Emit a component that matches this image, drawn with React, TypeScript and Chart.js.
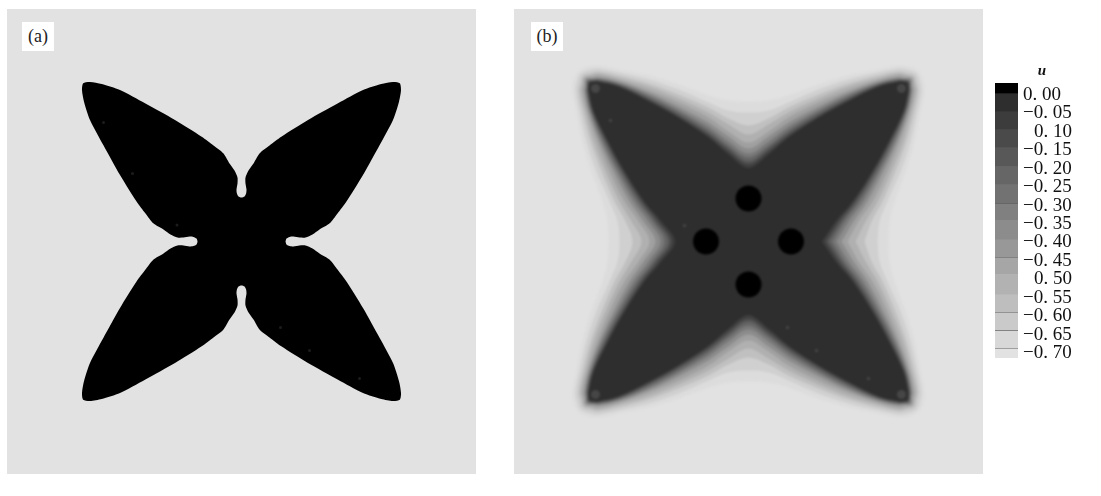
import React, { useEffect, useRef } from "react";
import { Chart, registerables } from "chart.js";

Chart.register(...registerables);

type Pt = [number, number];

const PANEL_GRAY = "#e2e2e2";

// one eighth of the outline of panel (a), from the axis notch to the leaf tip
const SOLID_OUTLINE: Pt[] = [
  [44, 0], [45, 3], [48, 4.6], [52, 5], [58, 4], [64, 4], [71, 7], [78, 12], [88.2, 18.2], [96, 28],
  [104.8, 39.8], [121.5, 66.5], [138.2, 96.5], [151.5, 121.5], [157.5, 139.8], [159.5, 151.5], [158.3, 158.3],
];

// panel (b) contours, from lightest to darkest, one eighth of each
const CONTOUR_GRAYS = ["#dcdcdc", "#d0d0d0", "#c0c0c0", "#b0b0b0", "#a0a0a0", "#8c8c8c", "#787878", "#646464", "#505050", "#3e3e3e", "#2e2e2e"];
const CONTOURS: Pt[][] = [
  [[140, 0], [141, 20], [146, 40], [157, 70], [166, 100], [172, 130], [176, 150], [174.5, 162], [170, 170]],
  [[129, 0], [131, 20], [139, 40], [152, 70], [162, 100], [169, 130], [173, 150], [171.5, 160], [168, 168]],
  [[116, 0], [123, 20], [134, 40], [147, 70], [158, 100], [166, 130], [170, 150], [168.5, 158.5], [166, 166]],
  [[107, 0], [117, 20], [129, 40], [143, 70], [155, 100], [163.5, 130], [168, 150], [166.5, 158], [164.5, 164.5]],
  [[99, 0], [110, 20], [124, 40], [139, 70], [151.5, 100], [161.5, 130], [166, 150], [165, 157], [163.5, 163.5]],
  [[93, 0], [105, 20], [119, 40], [135, 70], [149, 100], [160, 130], [164, 150], [163.5, 156], [162.5, 162.5]],
  [[88, 0], [100, 20], [115, 40], [132, 70], [147, 100], [158.5, 130], [163, 150], [162.5, 155.5], [161.5, 161.5]],
  [[84, 0], [96, 20], [111.5, 40], [129.5, 70], [145, 100], [157.5, 130], [162, 150], [161.5, 155], [160.5, 160.5]],
  [[80, 0], [93, 20], [108.5, 40], [127, 70], [143, 100], [156.5, 130], [161, 150], [161, 155], [160, 160]],
  [[77, 0], [90, 20], [106, 40], [125, 70], [141.5, 100], [155.5, 130], [160, 150], [160, 154], [159.3, 159.3]],
  [[73.5, 0], [87, 20], [104, 40], [123.5, 70], [140, 100], [154.5, 130], [159.5, 150], [159.5, 154], [158.3, 158.3]],
];

const HOLES: Pt[] = [[0, 43], [0, -43], [42.5, 0], [-42.5, 0]];
const TIP_DOTS: Pt[] = [[-153, 153], [153, 153], [-153, -153], [153, -153]];
const SPECKS_A: Pt[] = [[-138, 119], [-109, 68], [-64.5, 16.5], [39, -86], [68, -109], [118, -137]];
const SPECKS_B: Pt[] = [[-138, 121], [-64, 16], [39, -86], [68, -109], [120, -137]];

const LEGEND_TITLE = "u";
const LEVELS = [0, -0.05, -0.1, -0.15, -0.2, -0.25, -0.3, -0.35, -0.4, -0.45, -0.5, -0.55, -0.6, -0.65, -0.7];
const LEVEL_LABELS = ["0. 00", "−0. 05", "\u2002\u200a0. 10", "−0. 15", "−0. 20", "−0. 25", "−0. 30", "−0. 35", "−0. 40", "−0. 45", "\u2002\u200a0. 50", "−0. 55", "−0. 60", "−0. 65", "−0. 70"];
const BAND_EDGES = [0.0326, 0.0054, -0.0434, -0.092, -0.141, -0.193, -0.241, -0.293, -0.339, -0.391, -0.44, -0.488, -0.54, -0.589, -0.638, -0.686, -0.7136];
const BAND_GRAYS = ["#000000", "#2e2e2e", "#3c3c3c", "#4a4a4a", "#585858", "#666666", "#727272", "#808080", "#8c8c8c", "#989898", "#a6a6a6", "#b2b2b2", "#bebebe", "#cacaca", "#d8d8d8", "#e2e2e2"];
const BANDS_WITH_LINE = [4, 7, 10, 13, 14, 15];

function fullOutline(octant: Pt[]) {
  const quarter: Pt[] = [...octant, ...octant.slice(0, -1).reverse().map(([x, y]) => [y, x] as Pt)];
  const out: { x: number; y: number }[] = [];
  for (let turn = 0; turn < 4; turn++) {
    for (const [x, y] of quarter.slice(0, -1)) {
      if (turn === 0) out.push({ x, y });
      if (turn === 1) out.push({ x: -y, y: x });
      if (turn === 2) out.push({ x: -x, y: -y });
      if (turn === 3) out.push({ x: y, y: -x });
    }
  }
  out.push({ ...out[0] });
  return out;
}

const shape = (octant: Pt[], color: string, tension: number) => ({
  data: fullOutline(octant),
  showLine: true,
  fill: "shape",
  backgroundColor: color,
  borderColor: color,
  borderWidth: 0,
  pointRadius: 0,
  tension,
});

const dots = (pts: Pt[], color: string, r: number) => ({
  data: pts.map(([x, y]) => ({ x, y })),
  showLine: false,
  backgroundColor: color,
  borderWidth: 0,
  pointRadius: r,
  pointHoverRadius: r,
});

const panelOptions = (): any => ({
  animation: false,
  responsive: false,
  events: [],
  layout: { padding: 14 },
  plugins: { legend: { display: false }, tooltip: { enabled: false }, title: { display: false } },
  scales: {
    x: { type: "linear", display: false, min: -220.5, max: 220.5 },
    y: { type: "linear", display: false, min: -218.5, max: 218.5 },
  },
});

const SERIF = "'Liberation Serif', serif";

export default function App() {
  const a = useRef<HTMLCanvasElement>(null);
  const b = useRef<HTMLCanvasElement>(null);
  const c = useRef<HTMLCanvasElement>(null);

  useEffect(() => {
    const chartA = new Chart(a.current!, {
      type: "scatter",
      data: { datasets: [dots(SPECKS_A, "#1c1c1c", 1.5), shape(SOLID_OUTLINE, "#000000", 0.25)] as any },
      options: panelOptions(),
    });
    const chartB = new Chart(b.current!, {
      type: "scatter",
      data: {
        datasets: [
          dots(HOLES, "#000000", 13),
          dots(SPECKS_B, "#4a4a4a", 1.5),
          dots(TIP_DOTS, "#464646", 4.5),
          ...CONTOURS.map((ct, i) => shape(ct, CONTOUR_GRAYS[i], 0.35)).reverse(),
        ] as any,
      },
      options: panelOptions(),
    });
    const chartC = new Chart(c.current!, {
      type: "bar",
      data: {
        labels: [LEGEND_TITLE],
        datasets: BAND_GRAYS.map((g, i) => ({
          data: [[BAND_EDGES[i + 1], BAND_EDGES[i]]],
          backgroundColor: g,
          borderColor: "#5a5a5a",
          borderSkipped: false,
          borderWidth: BANDS_WITH_LINE.includes(i) ? { top: 1, left: 0, right: 0, bottom: 0 } : 0,
          grouped: false,
          barPercentage: 1,
          categoryPercentage: 1,
        })) as any,
      },
      options: {
        animation: false,
        responsive: false,
        events: [],
        layout: { padding: { left: 0, right: 0, top: 0, bottom: 14 } },
        plugins: {
          legend: { display: false },
          tooltip: { enabled: false },
          title: {
            display: true,
            text: LEGEND_TITLE,
            color: "#111111",
            font: { family: SERIF, size: 15, style: "italic", weight: "bold", lineHeight: 1 },
            padding: { top: 8, bottom: 4 },
          },
        },
        scales: {
          x: { display: false },
          y: {
            type: "linear",
            position: "right",
            min: BAND_EDGES[BAND_EDGES.length - 1],
            max: BAND_EDGES[0],
            grid: { display: false, drawTicks: false },
            border: { display: false },
            afterBuildTicks: (s: any) => {
              s.ticks = LEVELS.map((value) => ({ value }));
            },
            afterFit: (s: any) => {
              s.width = 71;
              s.paddingTop = 0;
              s.paddingBottom = 0;
            },
            ticks: {
              autoSkip: false,
              maxRotation: 0,
              padding: 5,
              crossAlign: "near",
              color: "#111111",
              font: { family: SERIF, size: 19 },
              callback: (_v: any, i: number) => LEVEL_LABELS[i],
            },
          },
        },
      } as any,
    });
    return () => {
      chartA.destroy();
      chartB.destroy();
      chartC.destroy();
    };
  }, []);

  const tag = (left: number, text: string) => (
    <div
      style={{
        position: "absolute",
        left,
        top: 22,
        width: 32,
        height: 29,
        lineHeight: "29px",
        background: "#ffffff",
        textAlign: "center",
        fontFamily: SERIF,
        fontSize: 18,
        color: "#222222",
      }}
    >
      {text}
    </div>
  );

  return (
    <div style={{ position: "fixed", left: 0, top: 0, width: 1101, height: 496, background: "#ffffff", overflow: "hidden", filter: "blur(0.5px)" }}>
      <canvas ref={a} width={469} height={465} style={{ position: "absolute", left: 7, top: 9, width: 469, height: 465, background: PANEL_GRAY }} />
      <div style={{ position: "absolute", left: 514, top: 9, width: 469, height: 465, background: PANEL_GRAY, overflow: "hidden" }}>
        <canvas ref={b} width={469} height={465} style={{ display: "block", width: 469, height: 465, filter: "blur(1px)" }} />
      </div>
      <canvas ref={c} width={94} height={316} style={{ position: "absolute", left: 995, top: 56, width: 94, height: 316 }} />
      {tag(22, "(a)")}
      {tag(531, "(b)")}
    </div>
  );
}
